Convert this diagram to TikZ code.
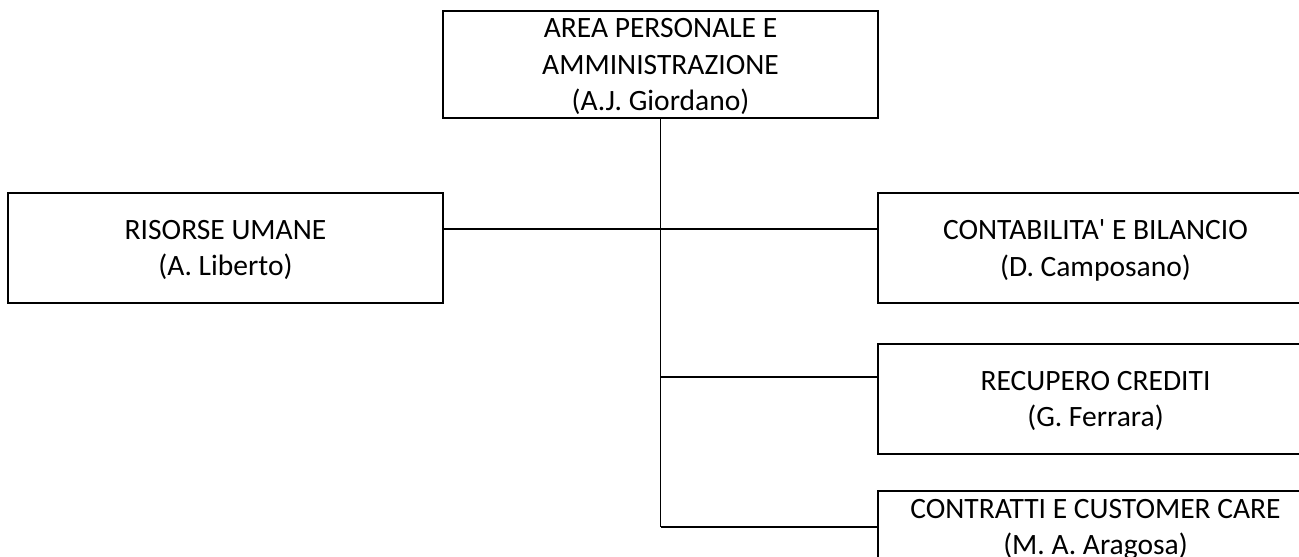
\documentclass[tikz,border=0pt]{standalone}
\usepackage{fontspec}
\setmainfont{Carlito}
\usetikzlibrary{positioning}
\usetikzlibrary{calc}
\def\cornice{(0,0) rectangle (1299,557)}
\tikzset{ufficio/.style={draw,line width=1.1pt,align=center,inner sep=0pt,
  minimum width=8.7cm,minimum height=2.2cm,font=\fontsize{16.8}{20.8}\selectfont,
  text depth=-3pt}}

\begin{document}
\begin{tikzpicture}[x=0.02cm,y=-0.02cm,line width=1.1pt]
   \clip \cornice;
    \node[ufficio,minimum height=2.14cm] (area) at (660.5,64.5) {AREA PERSONALE E\\AMMINISTRAZIONE\\(A.J. Giordano)};
   \node[ufficio] (risorse) at (225.5,248) {RISORSE UMANE\\(A. Liberto)};
     \node[ufficio] (contab) at (1095.5,248) {CONTABILITA\textquotesingle{} E BILANCIO\\(D. Camposano)};
   \node[ufficio,below=0.78cm of contab] (recupero) {RECUPERO CREDITI\\(G. Ferrara)};
    \node[ufficio,anchor=north,minimum height=0pt,inner ysep=0.16cm,text depth=2cm] (contratti) at (1095.5,490) {CONTRATTI E CUSTOMER CARE\\(M. A. Aragosa)};
   \coordinate (jA) at (area.south |- 0,229);
   \coordinate (jB) at (area.south |- 0,377);
   \coordinate (jC) at (area.south |- 0,527);
       \draw (area.south) -- (jC);
   \draw (risorse.east |- jA) -- (contab.west |- jA);
   \draw (jB) -- (recupero.west |- jB);
   \draw (jC) -- (contratti.west |- jC);
         \end{tikzpicture}
\end{document}
